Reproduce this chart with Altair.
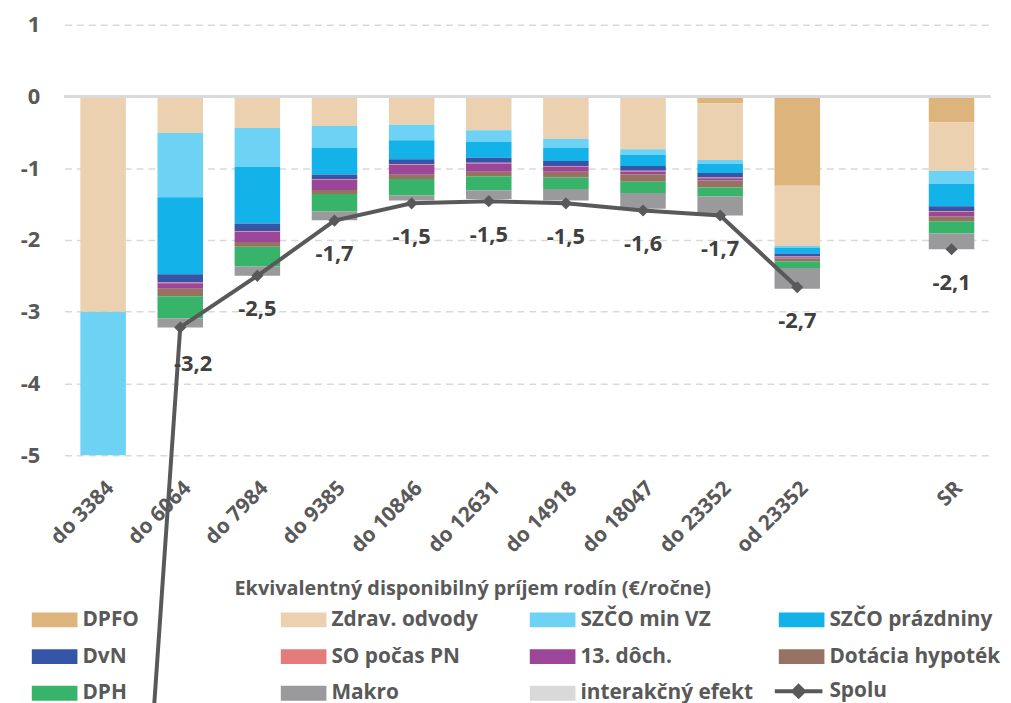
import altair as alt
import pandas as pd

categories = ["do 3384", "do 6064", "do 7984", "do 9385", "do 10846", "do 12631",
              "do 14918", "do 18047", "do 23352", "od 23352", "SR"]
x_domain = categories[:10] + [" "] + ["SR"]

components = ["DPFO", "Zdrav. odvody", "SZČO min VZ", "SZČO prázdniny", "DvN",
              "SO počas PN", "13. dôch.", "Dotácia hypoték", "DPH", "Makro",
              "interakčný efekt"]
colors = ["#DDB47B", "#EBD1AF", "#6DD2F3", "#13B2E8", "#3556A8", "#E67B7B",
          "#9B4699", "#977262", "#38B36A", "#9A9A9C", "#D9D9D9"]

dpfo     = [0.0, 0.0, 0.0, 0.0, 0.0, 0.0, 0.0, -0.02, -0.10, -1.245, -0.36]
zdrav    = [-3.0, -0.51, -0.44, -0.414, -0.396, -0.47, -0.59, -0.718, -0.787, -0.84, -0.677]
szco_vz  = [-15.8, -0.895, -0.54, -0.306, -0.214, -0.165, -0.125, -0.079, -0.05, -0.025, -0.18]
szco_pr  = [0.0, -1.075, -0.79, -0.368, -0.266, -0.22, -0.185, -0.151, -0.129, -0.08, -0.314]
dvn      = [0.0, -0.115, -0.11, -0.064, -0.069, -0.069, -0.07, -0.069, -0.065, -0.04, -0.07]
so_pn    = [0.0, -0.01, -0.01, -0.01, -0.01, -0.01, -0.01, -0.01, -0.01, -0.01, -0.01]
doch13   = [0.0, -0.077, -0.14, -0.141, -0.137, -0.116, -0.07, -0.036, -0.03, -0.02, -0.06]
dotacia  = [0.0, -0.102, -0.065, -0.056, -0.06, -0.063, -0.08, -0.107, -0.097, -0.037, -0.07]
dph      = [0.0, -0.312, -0.275, -0.244, -0.23, -0.193, -0.16, -0.155, -0.128, -0.093, -0.17]
makro    = [0.0, -0.123, -0.13, -0.124, -0.07, -0.124, -0.16, -0.221, -0.265, -0.29, -0.22]
interak  = [0.0, 0.0, 0.0, 0.0, 0.0, 0.0, 0.0, 0.0, 0.0, 0.02, 0.0]

spolu = [-18.8, -3.22, -2.50, -1.73, -1.49, -1.46, -1.49, -1.59, -1.66, -2.66, -2.13]

series = [dpfo, zdrav, szco_vz, szco_pr, dvn, so_pn, doch13, dotacia, dph, makro, interak]

rows = []
for ci, (comp, vals) in enumerate(zip(components, series)):
    for cat, v in zip(categories, vals):
        if v != 0:
            rows.append({"cat": cat, "comp": comp, "idx": ci, "val": v})
bars_df = pd.DataFrame(rows)

line_df = pd.DataFrame({"cat": categories, "val": spolu, "s": "Spolu",
                        "lab": [f"{v:.1f}".replace(".", ",") for v in spolu]})
line_only = line_df[line_df["cat"] != "SR"]  # the empty slot breaks the line before SR
lab_df = line_df[line_df["cat"] != categories[0]]

FONT = "Open Sans"
TXT = "#595959"

x_enc = alt.X("cat:N", scale=alt.Scale(domain=x_domain, paddingInner=0.41, paddingOuter=0.205),
              sort=x_domain,
              axis=alt.Axis(title="Ekvivalentný disponibilný príjem rodín (€/ročne)",
                            labelAngle=-45, labelFontSize=21, labelFont=FONT,
                            labelFontWeight="bold", labelColor=TXT, ticks=False,
                            domain=False, labelPadding=22,
                            titleFont=FONT, titleFontSize=20, titleFontWeight="bold",
                            titleColor=TXT, titleX=411, titleY=134, titleBaseline="middle"))
y_scale = alt.Scale(domain=[-5, 1], nice=False)

bars = alt.Chart(bars_df).mark_bar(clip=True).encode(
    x=x_enc,
    y=alt.Y("val:Q", stack="zero", scale=y_scale,
            axis=alt.Axis(title=None, values=[-5, -4, -3, -2, -1, 0, 1],
                          labelExpr="'' + datum.value",
                          labelFontSize=22, labelFont=FONT, labelFontWeight="bold",
                          labelColor=TXT, ticks=False, domain=False, labelPadding=25,
                          gridColor="#D9D9D9", gridDash=[7, 5], gridWidth=1.5)),
    color=alt.Color("comp:N", scale=alt.Scale(domain=components, range=colors),
                    legend=alt.Legend(title=None, orient="none", legendX=-33, legendY=577,
                                      columns=4, gridAlign="all", columnPadding=25,
                                      rowPadding=4, symbolType="M-1,-0.326H1V0.326H-1Z",
                                      symbolSize=2116, symbolStrokeWidth=0, labelOffset=5,
                                      labelFont=FONT, labelFontSize=21, labelFontWeight="bold",
                                      labelColor=TXT, labelLimit=400)),
    order=alt.Order("idx:Q"),
)

zero = alt.Chart(line_df).mark_rule(color="#D9D9D9", strokeWidth=2).encode(y=alt.datum(0))

line = alt.Chart(line_only).mark_line(clip=False, strokeWidth=4).encode(
    x=alt.X("cat:N", sort=x_domain),
    y=alt.Y("val:Q", scale=y_scale),
    stroke=alt.Stroke("s:N", scale=alt.Scale(domain=["Spolu"], range=["#595959"]),
                      legend=alt.Legend(title=None, orient="none", legendX=714, legendY=646,
                                        symbolType="M-1,0H1M0,-0.22L0.22,0L0,0.22L-0.22,0Z",
                                        symbolSize=2304, symbolStrokeWidth=4,
                                        symbolFillColor="#595959", labelOffset=5,
                                        labelFont=FONT, labelFontSize=21,
                                        labelFontWeight="bold", labelColor=TXT)),
)

pts = alt.Chart(line_df).mark_point(shape="diamond", filled=True, size=150, opacity=1,
                                    color="#595959", clip=False).encode(
    x=alt.X("cat:N", sort=x_domain),
    y=alt.Y("val:Q", scale=y_scale),
)

labels = alt.Chart(lab_df[lab_df["cat"] != categories[1]]).mark_text(
    dy=34, font=FONT, fontSize=22, fontWeight="bold", color="#404040", baseline="middle"
).encode(x=alt.X("cat:N", sort=x_domain), y=alt.Y("val:Q", scale=y_scale), text="lab:N")

labels_first = alt.Chart(lab_df[lab_df["cat"] == categories[1]]).mark_text(
    dy=37, dx=13, font=FONT, fontSize=22, fontWeight="bold", color="#404040", baseline="middle"
).encode(x=alt.X("cat:N", sort=x_domain), y=alt.Y("val:Q", scale=y_scale), text="lab:N")

chart = alt.layer(bars, zero, line, pts, labels, labels_first).properties(
    width=933, height=434,
    autosize=alt.AutoSizeParams(type="none"),
    padding={"left": 57, "top": 14, "right": 13, "bottom": 247},
).configure_view(stroke=None).configure_legend(symbolDirection="horizontal")

chart.save("out.html", embed_options={"renderer": "svg", "actions": False})
